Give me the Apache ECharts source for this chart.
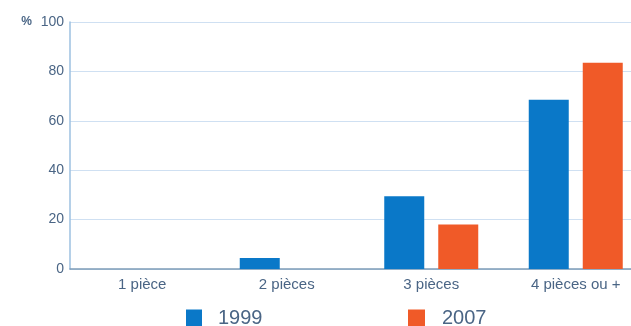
<!DOCTYPE html>
<html>
<head>
<meta charset="utf-8">
<script src="https://cdn.jsdelivr.net/npm/echarts@6/dist/echarts.min.js"></script>
<style>
  html, body { margin: 0; padding: 0; background: #fff; }
  #chart { width: 631px; height: 326px; }
</style>
</head>
<body>
<div id="chart"></div>
<script>
// Répartition des logements selon le nombre de pièces (%)
const categories = ['1 pièce', '2 pièces', '3 pièces', '4 pièces ou +'];
const values1999 = [0, 4.5, 29.5, 68.5];
const values2007 = [0, 0, 18, 83.5];
const yTicks = [0, 20, 40, 60, 80, 100];

const blue = '#0a78c8';
const orange = '#f05a28';
const textColor = '#4a6585';

const chart = echarts.init(document.getElementById('chart'));
chart.setOption({
  animation: false,
  textStyle: { fontFamily: 'Liberation Sans, Arial, sans-serif' },
  grid: {
    left: 70, top: 22, width: 578, height: 247,
    containLabel: false, outerBoundsMode: 'none'
  },
  legend: [
    {
      data: ['1999'], left: 186, top: 308, padding: 0,
      itemWidth: 16, itemHeight: 17, icon: 'rect',
      textStyle: { fontSize: 20, lineHeight: 17, color: textColor, padding: [0, 0, 0, 11] }
    },
    {
      data: ['2007'], left: 408, top: 308, padding: 0,
      itemWidth: 17, itemHeight: 17, icon: 'rect',
      textStyle: { fontSize: 20, lineHeight: 17, color: textColor, padding: [0, 0, 0, 12] }
    }
  ],
  xAxis: {
    type: 'category',
    data: categories,
    axisLine: { lineStyle: { color: '#7e9cb8', width: 1.5 } },
    axisTick: { show: false },
    axisLabel: { color: textColor, fontSize: 15, margin: 8 }
  },
  yAxis: {
    type: 'value',
    min: yTicks[0],
    max: yTicks[yTicks.length - 1],
    interval: 20,
    name: '%',
    nameLocation: 'end',
    nameGap: 0,
    nameTextStyle: {
      color: textColor, fontSize: 12, fontWeight: 'bold',
      align: 'right', verticalAlign: 'middle', padding: [0, 38, 3, 0]
    },
    axisLine: { show: true, lineStyle: { color: '#9cc0e0', width: 1.5 } },
    axisTick: { show: false },
    axisLabel: { color: textColor, fontSize: 14, margin: 6 },
    splitLine: { lineStyle: { color: '#cfe0f2', width: 1 } }
  },
  series: [
    {
      name: '1999', type: 'bar', data: values1999,
      barWidth: 40, barGap: '35%',
      itemStyle: { color: blue }
    },
    {
      name: '2007', type: 'bar', data: values2007,
      barWidth: 40,
      itemStyle: { color: orange }
    }
  ]
});
</script>
</body>
</html>
